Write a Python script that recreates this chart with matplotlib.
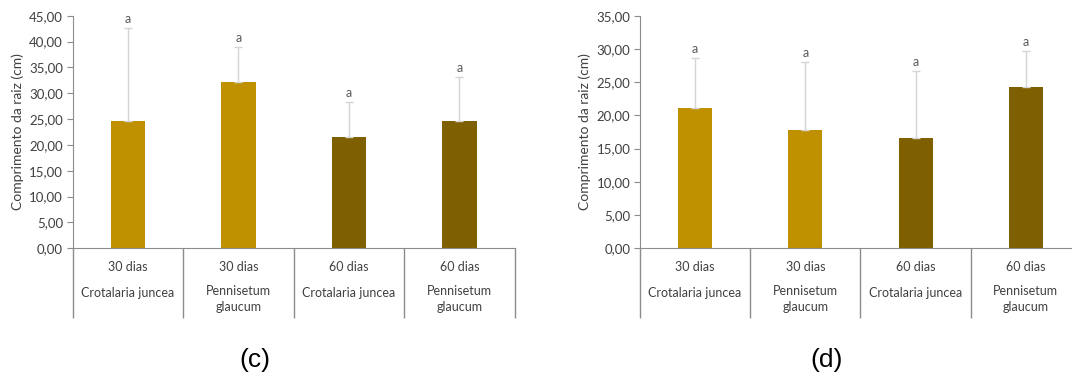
import matplotlib
matplotlib.use("Agg")
import matplotlib.pyplot as plt
from matplotlib.ticker import FuncFormatter

# ---- data ----
CATEGORIES = ["30 dias", "30 dias", "60 dias", "60 dias"]
SPECIES = ["Crotalaria juncea", "Pennisetum\nglaucum", "Crotalaria juncea", "Pennisetum\nglaucum"]
LETTERS = ["a", "a", "a", "a"]

MEANS_C = [24.63, 32.11, 21.47, 24.63]
ERR_C = [18.05, 6.77, 6.77, 8.45]
MEANS_D = [21.16, 17.85, 16.55, 24.22]
ERR_D = [7.43, 10.13, 10.13, 5.51]

# ---- style ----
BAR_COLORS = ["#BF9000", "#BF9000", "#7F6000", "#7F6000"]
AXIS_COLOR = "#8c8c8c"
TEXT_COLOR = "#404040"
ERR_COLOR = "#d4d4d4"
CAP_COLOR = "#9a9a9a"
FONT = "Lato"

plt.rcParams['font.family'] = [FONT, 'DejaVu Sans']

fig = plt.figure(figsize=(10.72, 3.8), dpi=100, facecolor="white")


def draw_panel(ax, means, errs, ymax):
    x = list(range(len(means)))
    ax.bar(x, means, width=0.31, color=BAR_COLORS, zorder=2)
    _, caps, bars = ax.errorbar(x, means, yerr=[[0] * len(errs), errs], fmt='none',
                                ecolor=ERR_COLOR, elinewidth=1.0, capsize=3, capthick=1.0, zorder=3)
    for c in caps:
        c.set_color(CAP_COLOR)

    for i, (m, e) in enumerate(zip(means, errs)):
        ax.annotate(LETTERS[i], xy=(i, m + e), xytext=(0, 3), textcoords='offset pixels',
                    ha='center', va='bottom', fontsize=9, color="#595959")

    ax.set_xlim(-0.5, len(means) - 0.5)
    ax.set_ylim(0, ymax)
    ax.set_yticks(range(0, ymax + 1, 5))
    ax.yaxis.set_major_formatter(FuncFormatter(lambda v, p: f"{v:.2f}".replace('.', ',')))
    ax.tick_params(axis='y', direction='out', length=4, color=AXIS_COLOR, labelsize=9.5,
                   labelcolor=TEXT_COLOR, pad=3)

    # category separators as long minor ticks
    ax.set_xticks([i - 0.5 for i in range(len(means) + 1)], minor=True)
    ax.set_xticks(x)
    ax.set_xticklabels([])
    ax.tick_params(axis='x', which='major', length=0)
    ax.tick_params(axis='x', which='minor', direction='out', length=50.4, color=AXIS_COLOR, width=1)

    for s in ['top', 'right']:
        ax.spines[s].set_visible(False)
    for s in ['left', 'bottom']:
        ax.spines[s].set_color(AXIS_COLOR)
    ax.spines['bottom'].set_zorder(4)

    for i in x:
        ax.annotate(CATEGORIES[i], xy=(i, 0), xycoords=('data', 'axes fraction'), xytext=(0, -19),
                    textcoords='offset pixels', ha='center', va='center', fontsize=9, color=TEXT_COLOR)
        multi = '\n' in SPECIES[i]
        ax.annotate(SPECIES[i], xy=(i, 0), xycoords=('data', 'axes fraction'),
                    xytext=(0, -37 if multi else -45), textcoords='offset pixels', ha='center',
                    va='top' if multi else 'center', fontsize=9, color=TEXT_COLOR, linespacing=1.4)

    ax.set_ylabel("Comprimento da raiz (cm)", fontsize=10, color=TEXT_COLOR, labelpad=4)


ax_c = fig.add_axes([0.0678, 0.3466, 0.4123, 0.6121])
draw_panel(ax_c, MEANS_C, ERR_C, 45)

ax_d = fig.add_axes([0.597, 0.3466, 0.4114, 0.6121])
draw_panel(ax_d, MEANS_D, ERR_D, 35)

fig.text(255 / 1072, 1 - 360 / 380, "(c)", ha='center', va='center', fontsize=19,
         family=['Liberation Sans', 'DejaVu Sans'], color="black")
fig.text(827 / 1072, 1 - 360 / 380, "(d)", ha='center', va='center', fontsize=19,
         family=['Liberation Sans', 'DejaVu Sans'], color="black")

fig.savefig("out.png", dpi=100, facecolor="white")
